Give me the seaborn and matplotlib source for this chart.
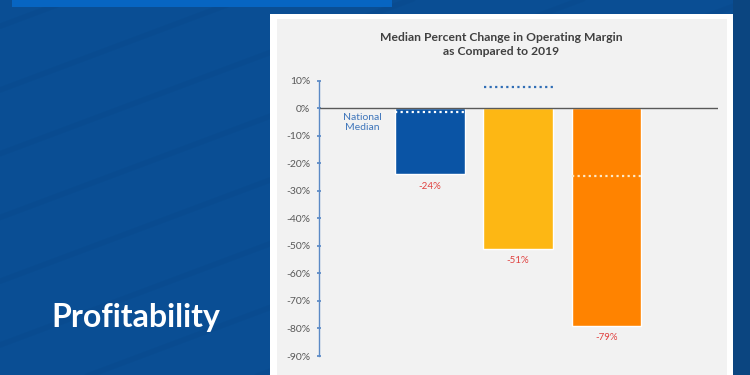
import matplotlib
matplotlib.use('Agg')
import matplotlib.pyplot as plt
import matplotlib.patches as mpatches
import seaborn as sns
import pandas as pd

# Data
groups = ['Group 1', 'Group 2', 'Group 3']
median_change = [-24, -51, -79]
national_median = [-1.5, 7.5, -24.5]
bar_colors = ['#0a54a5', '#fdb714', '#ff8300']
median_line_colors = ['white', '#2f6db5', '#fde9c8']
y_ticks = list(range(-90, 11, 10))

df = pd.DataFrame({'group': groups, 'change': median_change})

sns.set_theme(style='white')
plt.rcParams['font.family'] = ['Lato', 'DejaVu Sans']

fig = plt.figure(figsize=(7.5, 3.75), dpi=100)
fig.patch.set_facecolor('#0a4e94')

W, H = 750, 375


def px_rect(x0, y0, x1, y1, color, z=0):
    r = mpatches.Rectangle((x0 / W, 1 - y1 / H), (x1 - x0) / W, (y1 - y0) / H,
                           transform=fig.transFigure, facecolor=color,
                           edgecolor='none', zorder=z)
    fig.add_artist(r)


# faint background streaks (shallow diagonals)
for i in range(10):
    y0 = -0.6 + i * 0.17
    fig.add_artist(plt.Line2D([0.0, 1.0], [y0, y0 + 0.75], transform=fig.transFigure,
                              color='#063a72', lw=4, alpha=0.10, zorder=0))
px_rect(733, 0, 750, 375, '#0b4580', z=0.5)
px_rect(12, 0, 392, 7, '#0765c2', z=0.5)

# white card with gray interior
px_rect(270, 14, 733, 375, 'white', z=1)
px_rect(277, 19, 727, 375, '#f2f2f2', z=1.1)

ax = fig.add_axes([319 / W, 1 - 356 / H, (718 - 319) / W, (356 - 80.5) / H])
ax.set_zorder(2)
ax.patch.set_alpha(0)

sns.barplot(data=df, x='group', y='change', hue='group', palette=bar_colors,
            width=0.79, legend=False, ax=ax, saturation=1)

ax.set_xlim(-1.25, 3.26)
ax.set_ylim(-90, 10)
ax.set_yticks(y_ticks)
ax.set_yticklabels([f'{t}%' for t in y_ticks], fontsize=7.5, color='#595959')
ax.set_xticks([])
ax.set_xlabel('')
ax.set_ylabel('')

for s in ['top', 'right', 'bottom']:
    ax.spines[s].set_visible(False)
ax.spines['left'].set_color('#5b8ac6')
ax.spines['left'].set_linewidth(1)
ax.tick_params(axis='y', direction='inout', length=3, color='#5b8ac6', pad=5, left=True)
ax.axhline(0, color='#595959', lw=1, zorder=1)

# national median dotted lines
for i, (m, c) in enumerate(zip(national_median, median_line_colors)):
    ax.hlines(m, i - 0.39, i + 0.39, colors=c, linestyles=(0, (1, 1.5)), lw=1.6, zorder=5)

# value labels
for i, v in enumerate(median_change):
    ax.text(i, v - 4.4, f'{v}%', ha='center', va='center', fontsize=7, color='#e0413f')

ax.text(-0.76, -5.3, 'National\nMedian', ha='center', va='center', fontsize=7.5,
        color='#3f76bb', linespacing=1.2)

fig.text(501 / W, 1 - 44.5 / H, 'Median Percent Change in Operating Margin\nas Compared to 2019',
         ha='center', va='center', fontsize=8.7, fontweight='bold', color='#404040',
         linespacing=1.35, zorder=3)

fig.text(51 / W, 1 - 318 / H, 'Profitability', ha='left', va='center', fontsize=23,
         fontweight='bold', color='white', zorder=3)

fig.savefig('out.png', dpi=100, facecolor=fig.get_facecolor())
plt.close(fig)
